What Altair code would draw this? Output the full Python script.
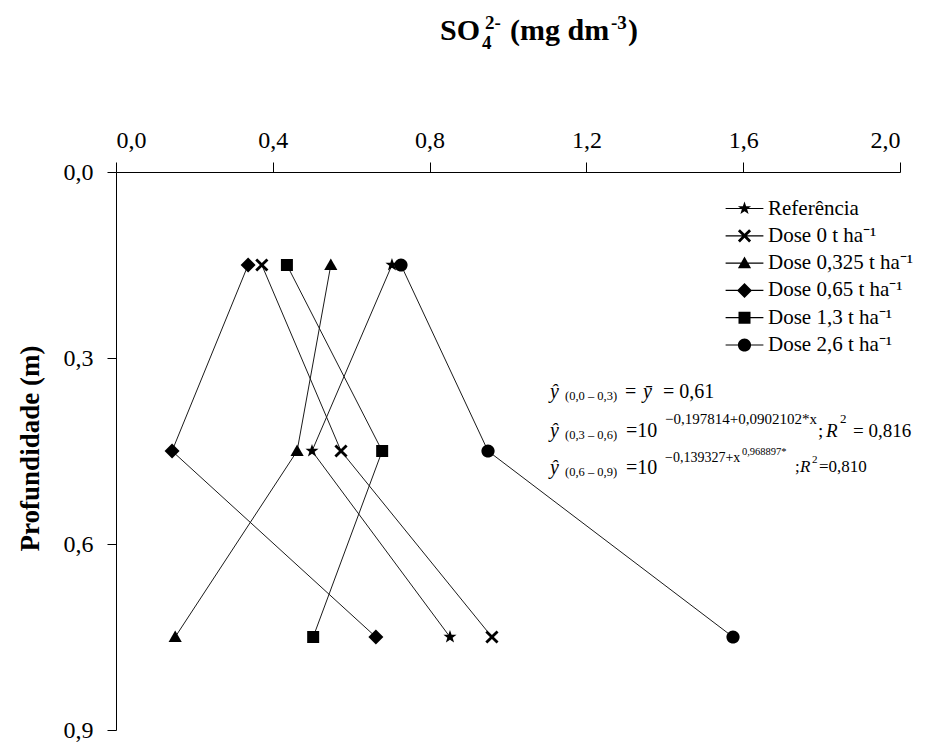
import altair as alt
import pandas as pd

# ---------------- data ----------------
series = ["Referência", "Dose 0 t ha⁻¹", "Dose 0,325 t ha⁻¹",
          "Dose 0,65 t ha⁻¹", "Dose 1,3 t ha⁻¹", "Dose 2,6 t ha⁻¹"]
depths = [0.15, 0.45, 0.75]
ref = [0.704, 0.500, 0.852]
dose_0 = [0.372, 0.574, 0.959]
dose_0325 = [0.548, 0.462, 0.151]
dose_065 = [0.337, 0.143, 0.663]
dose_13 = [0.436, 0.679, 0.503]
dose_26 = [0.727, 0.949, 1.574]
values = [ref, dose_0, dose_0325, dose_065, dose_13, dose_26]

x_ticks = [0.0, 0.4, 0.8, 1.2, 1.6, 2.0]
y_ticks = [0.0, 0.3, 0.6, 0.9]

rows = []
for s, vals in zip(series, values):
    for d, v in zip(depths, vals):
        rows.append({"series": s, "depth": d, "so4": v})
df = pd.DataFrame(rows)

# annotation text (title + regression equations), placed in data units
ann_text = ["SO", "4", "2-", "(mg dm", "-3", ")",
            "ŷ", "(0,0 – 0,3)", "=", "ȳ", "= 0,61",
            "ŷ", "(0,3 – 0,6)", "=10", "−0,197814+0,0902102*x", ";", "R", "2", "= 0,816",
            "ŷ", "(0,6 – 0,9)", "=10", "−0,139327+x", "0,968897*", ";", "R", "2", "=0,810"]
ann_x = [0.8265, 0.9337, 0.9413, 1.0051, 1.2628, 1.3061,
         1.1071, 1.1454, 1.2985, 1.3444, 1.3954,
         1.1071, 1.1454, 1.3010, 1.4005, 1.7908, 1.8112, 1.8469, 1.8801,
         1.1071, 1.1454, 1.3010, 1.4005, 1.5969, 1.7321, 1.7449, 1.7755, 1.7934]
ann_y = [-0.2129, -0.1984, -0.2306, -0.2129, -0.2306, -0.2129,
         0.3645, 0.3677, 0.3645, 0.3645, 0.3645,
         0.4274, 0.4306, 0.4274, 0.4065, 0.4274, 0.4274, 0.4048, 0.4274,
         0.4871, 0.4903, 0.4871, 0.4677, 0.4565, 0.4839, 0.4839, 0.4694, 0.4839]
ann_size = [30, 19, 19, 30, 19, 30,
            20, 12.5, 20, 20, 20,
            20, 12.5, 20, 15, 19, 19, 13, 19,
            20, 12.5, 20, 14, 10.5, 17, 17, 11, 17]
ann_style = ["bold"] * 6 + \
            ["italic", "normal", "normal", "italic", "normal"] + \
            ["italic", "normal", "normal", "normal", "normal", "italic", "normal", "normal"] + \
            ["italic", "normal", "normal", "normal", "normal", "normal", "italic", "normal", "normal"]
ann = pd.DataFrame({"t": ann_text, "x": ann_x, "y": ann_y, "size": ann_size, "style": ann_style})

# ---------------- symbols ----------------
STAR = ("M0,-1.15L0.27,-0.37L1.09,-0.36L0.44,0.14L0.68,0.93L0,0.46L-0.68,0.93"
        "L-0.44,0.14L-1.09,-0.36L-0.27,-0.37Z")
XSYM = ("M-1.1,-0.77L-0.77,-1.1L0,-0.33L0.77,-1.1L1.1,-0.77L0.33,0L1.1,0.77L0.77,1.1"
        "L0,0.33L-0.77,1.1L-1.1,0.77L-0.33,0Z")
TRI = "M0,-1.1L1.1,0.85L-1.1,0.85Z"
DIAM = "M-1.25,0L0,-1.25L1.25,0L0,1.25Z"
SQR = "M-1,-1L1,-1L1,1L-1,1Z"
CIRC = "M-1.1,0A1.1,1.1 0 1,1 1.1,0A1.1,1.1 0 1,1 -1.1,0Z"
plot_shapes = [STAR, XSYM, TRI, DIAM, SQR, CIRC]
LINE = "M-3.15,-0.1L3.15,-0.1L3.15,0.1L-3.15,0.1Z"
legend_shapes = [p + LINE for p in plot_shapes]

# ---------------- scales / axes ----------------
label_expr = "replace(format(datum.value, '.1f'), '.', ',')"
xscale = alt.Scale(domain=[0, 2.0], nice=False, zero=False)
yscale = alt.Scale(domain=[0, 0.9], reverse=True, nice=False, zero=False)

xaxis = alt.Axis(orient="top", values=x_ticks, labelExpr=label_expr, title=None,
                 grid=False, tickSize=10, labelPadding=10, labelFontSize=24,
                 labelFont="Liberation Serif", labelColor="black",
                 domainColor="black", tickColor="black", domainWidth=1, tickWidth=1)
yaxis = alt.Axis(orient="left", values=y_ticks, labelExpr=label_expr,
                 title="Profundidade (m)", titleFont="Liberation Serif",
                 titleFontSize=27, titleFontWeight="bold", titleColor="black",
                 titleX=-86, titleY=276, titleAlign="center", titleBaseline="middle",
                 grid=False, tickSize=9, labelPadding=14, labelFontSize=24,
                 labelFont="Liberation Serif", labelColor="black",
                 domainColor="black", tickColor="black", domainWidth=1, tickWidth=1)

X = alt.X("so4:Q", scale=xscale, axis=xaxis)
Y = alt.Y("depth:Q", scale=yscale, axis=yaxis)

lines = alt.Chart(df).mark_line(color="#1a1a1a", strokeWidth=1).encode(
    x=X, y=Y, detail="series:N", order=alt.Order("depth:Q"))

points = alt.Chart(df).mark_point(filled=True, color="black", opacity=1, size=144).encode(
    x=X, y=Y,
    shape=alt.Shape("series:N", scale=alt.Scale(domain=series, range=plot_shapes), legend=None))

legend_layer = alt.Chart(df).transform_filter("false").mark_point(
    filled=True, fill="black", stroke="black", strokeWidth=1, opacity=1, size=144).encode(
    x=X, y=Y,
    shape=alt.Shape("series:N", scale=alt.Scale(domain=series, range=legend_shapes),
                    legend=alt.Legend(title=None, orient="none", legendX=618, legendY=26,
                                      symbolSize=144, labelFont="Liberation Serif",
                                      labelFontSize=21, labelOffset=13, rowPadding=5.3,
                                      padding=0, symbolStrokeWidth=0.5,
                                      symbolFillColor="black", symbolStrokeColor="black",
                                      labelColor="black", symbolOpacity=1)))


def text_layer(style):
    weight = "bold" if style == "bold" else "normal"
    fstyle = "italic" if style == "italic" else "normal"
    return alt.Chart(ann).transform_filter(alt.datum.style == style).mark_text(
        align="left", baseline="alphabetic", font="Liberation Serif",
        fontWeight=weight, fontStyle=fstyle, color="black").encode(
        x=alt.X("x:Q", scale=xscale), y=alt.Y("y:Q", scale=yscale),
        text="t:N", size=alt.Size("size:Q", scale=None))


chart = alt.layer(lines, points, legend_layer,
                  text_layer("normal"), text_layer("italic"), text_layer("bold")
                  ).resolve_scale(shape="independent").properties(
    width=784, height=558,
    autosize=alt.AutoSizeParams(type="none"),
    padding={"left": 108, "top": 164, "right": 30, "bottom": 12},
    background="white",
).configure_view(stroke=None)

chart.save("out.html", embed_options={"renderer": "svg", "actions": False})
